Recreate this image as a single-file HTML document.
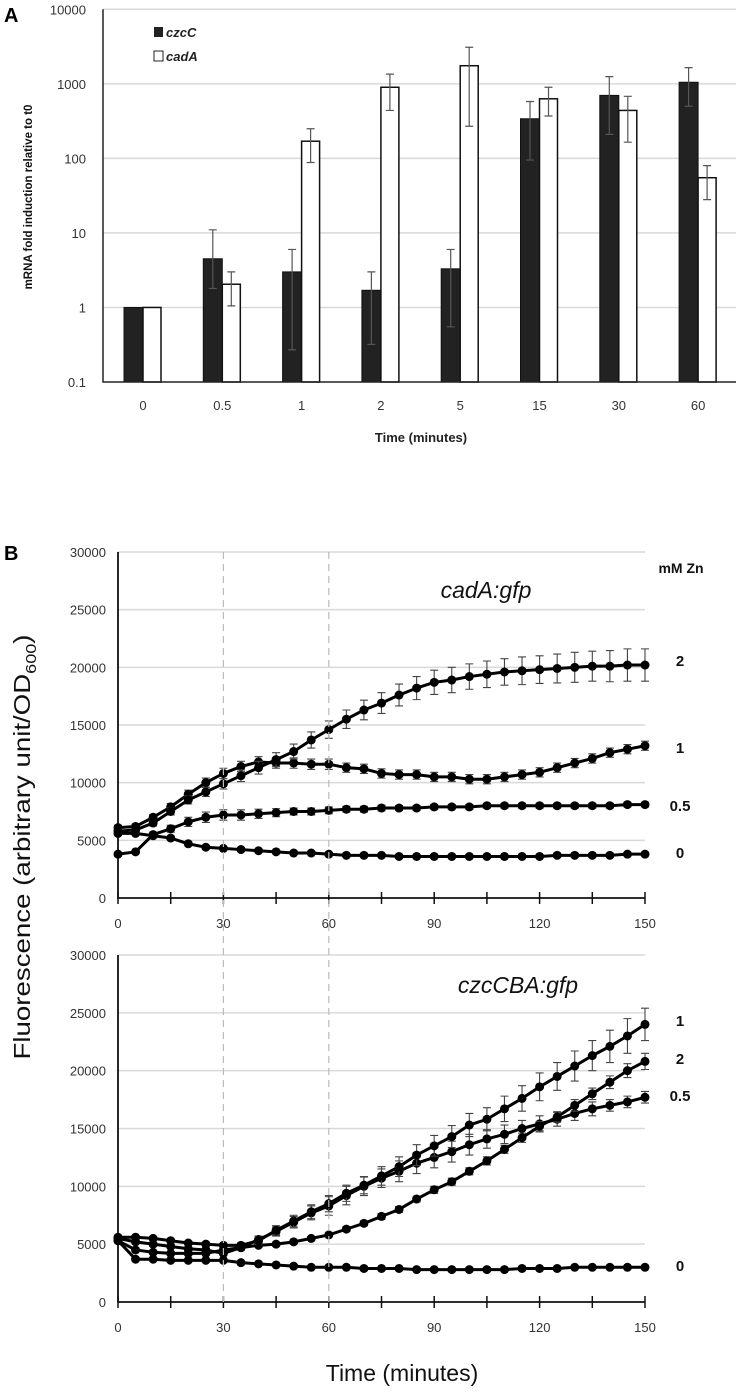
<!DOCTYPE html>
<html><head><meta charset="utf-8"><style>
html,body{margin:0;padding:0;background:#fff;}
svg{display:block;}
text{font-family:"Liberation Sans",Arial,sans-serif;}
</style></head><body>
<svg id="fig" width="739" height="1392" viewBox="0 0 739 1392" xmlns="http://www.w3.org/2000/svg">
<g id="panelA"></g>
<g id="panelB"></g>
</svg>
<script>
// ---------- Panel A data ----------
const catsA = ["0","0.5","1","2","5","15","30","60"];
const czcC = [1, 4.5, 3, 1.7, 3.3, 340, 700, 1050];
const czcCHi = [1, 11, 6, 3, 6, 580, 1250, 1650];
const czcCLo = [1, 1.8, 0.27, 0.32, 0.55, 95, 210, 500];
const cadA = [1, 2.05, 170, 900, 1750, 630, 440, 55];
const cadAHi = [1, 3, 250, 1350, 3100, 900, 680, 80];
const cadALo = [1, 1.05, 88, 440, 270, 370, 165, 28];
const ticksA = [0.1, 1, 10, 100, 1000, 10000];
const tickLabelsA = ["0.1","1","10","100","1000","10000"];

// ---------- Panel B data (t = 0..150 step 5) ----------
const timeB = [0,5,10,15,20,25,30,35,40,45,50,55,60,65,70,75,80,85,90,95,100,105,110,115,120,125,130,135,140,145,150];
const xTicksB = [0,30,60,90,120,150];
const yTicksB = [0,5000,10000,15000,20000,25000,30000];
const cad2 = [5800,5900,6500,7500,8500,9200,9900,10600,11300,12000,12700,13700,14600,15500,16300,16900,17600,18200,18700,18900,19200,19400,19600,19700,19800,19900,20000,20100,20100,20200,20200];
const cad2Err = [200,200,250,300,350,400,450,500,550,600,650,700,750,800,850,900,950,1000,1050,1100,1100,1150,1150,1200,1200,1250,1300,1300,1350,1400,1400];
const cad1 = [6100,6200,7000,7900,9000,10000,10800,11400,11800,11700,11700,11600,11600,11300,11200,10800,10700,10700,10500,10500,10300,10300,10500,10700,10900,11300,11700,12100,12600,12900,13200];
const cad1Err = [200,200,250,300,350,400,450,450,450,450,450,450,450,400,400,400,400,400,400,400,400,400,400,400,400,400,400,400,400,400,400];
const cad05 = [3800,4000,5500,6000,6600,7000,7200,7200,7300,7400,7500,7500,7600,7700,7700,7800,7800,7800,7900,7900,7900,8000,8000,8000,8000,8000,8000,8000,8000,8100,8100];
const cad05Err = [150,150,200,300,400,450,450,450,400,350,300,300,300,250,250,250,200,200,200,200,200,200,200,200,200,200,200,200,200,200,200];
const cad0 = [5600,5600,5400,5200,4700,4400,4300,4200,4100,4000,3900,3900,3800,3700,3700,3700,3600,3600,3600,3600,3600,3600,3600,3600,3600,3700,3700,3700,3700,3800,3800];
const cad0Err = [150,150,150,150,150,150,150,150,150,150,150,150,150,150,150,150,150,150,150,150,150,150,150,150,150,150,150,150,150,150,150];

const czc1 = [5600,5600,5500,5300,5100,5000,4900,4900,5300,6200,7000,7800,8500,9400,10100,10900,11700,12700,13500,14300,15300,15800,16700,17600,18600,19500,20400,21300,22100,23000,24000];
const czc1Err = [150,150,150,150,150,150,150,200,300,400,500,600,700,700,750,800,850,900,900,950,1000,1000,1100,1100,1200,1200,1300,1300,1400,1500,1400];
const czc2 = [5300,4500,4300,4200,4200,4200,4500,4700,4900,5000,5200,5500,5800,6300,6800,7400,8000,8900,9700,10400,11300,12200,13200,14200,15200,16000,17000,18000,19000,20000,20800];
const czc2Err = [150,150,150,150,150,150,150,150,150,150,150,150,150,200,200,250,250,250,300,300,300,350,350,400,400,450,500,500,550,600,700];
const czc05 = [5500,5200,5000,4800,4600,4500,4200,4700,5400,6100,6900,7700,8300,9200,10000,10700,11300,12000,12500,13000,13600,14100,14500,15000,15400,15800,16300,16700,17000,17300,17700];
const czc05Err = [150,150,150,150,150,150,150,200,300,400,500,600,800,800,800,800,900,900,900,900,900,800,800,700,700,600,600,600,500,500,500];
const czc0 = [5300,3700,3700,3600,3600,3600,3600,3400,3300,3200,3100,3000,3000,3000,2900,2900,2900,2800,2800,2800,2800,2800,2800,2900,2900,2900,3000,3000,3000,3000,3000];
const czc0Err = [100,100,100,100,100,100,100,100,100,100,100,100,100,100,100,100,100,100,100,100,100,100,100,100,100,100,100,100,100,100,100];

const NS = "http://www.w3.org/2000/svg";
function mk(parent, tag, attrs, text){
  const e = document.createElementNS(NS, tag);
  for (const k in attrs) e.setAttribute(k, attrs[k]);
  if (text !== undefined) e.textContent = text;
  parent.appendChild(e);
  return e;
}

// ---------- Panel A ----------
(function(){
  const g = document.getElementById('panelA');
  const x0 = 103, x1 = 736, yTop = 9.3, yBot = 382;
  const dec = (yBot - yTop) / 5;
  const yA = v => yBot - (Math.log10(v) + 1) * dec;
  const xA = i => 143 + i * 79.3;

  ticksA.forEach((t, i) => {
    const y = yA(t);
    if (i > 0) {
      const gl = mk(g, 'line', {x1:x0, x2:x1, y1:y, y2:y, stroke:'#d9d9d9', 'stroke-width':1.5});
      
      
    }
    const tl = mk(g, 'text', {x:86, y:y+5, 'text-anchor':'end', 'font-size':13, fill:'#333'}, tickLabelsA[i]);
    
    
  });

  catsA.forEach((c, i) => {
    const cx = xA(i);
    const yb = yA(czcC[i]);
    const b1 = mk(g, 'rect', {x:cx-19, y:yb, width:19, height:yBot-yb, fill:'#222', stroke:'#111', 'stroke-width':1});
    
    
    const yw = yA(cadA[i]);
    const b2 = mk(g, 'rect', {x:cx, y:yw, width:18, height:yBot-yw, fill:'#fff', stroke:'#111', 'stroke-width':1.5});
    
    
    [[cx-9.5, czcCHi[i], czcCLo[i]], [cx+9, cadAHi[i], cadALo[i]]].forEach(([ex, hi, lo]) => {
      if (hi === lo) return;
      const eb = mk(g, 'path', {d:`M${ex},${yA(hi)}V${yA(lo)}M${ex-4},${yA(hi)}H${ex+4}M${ex-4},${yA(lo)}H${ex+4}`, stroke:'#555', 'stroke-width':1.2, fill:'none'});
      
      
    });
    const xl = mk(g, 'text', {x:cx, y:410, 'text-anchor':'middle', 'font-size':13, fill:'#333'}, c);
    
    
  });

  const ax = mk(g, 'path', {d:`M${x0},${yTop}V${yBot}H${x1}`, stroke:'#222', 'stroke-width':1.5, fill:'none'});
  
  
})();

// static labels for panel A
(function(){
  const g = document.getElementById('panelA');
  g.insertAdjacentHTML('beforeend',
  '<text x="4" y="22" font-size="20" font-weight="bold">A</text>' +
  '<rect x="154" y="27" width="9" height="10" fill="#222"/>' +
  '<text x="166" y="37" font-size="13" font-style="italic" font-weight="bold" fill="#222">czcC</text>' +
  '<rect x="154" y="51" width="9" height="10" fill="#fff" stroke="#222" stroke-width="1"/>' +
  '<text x="166" y="61" font-size="13" font-style="italic" font-weight="bold" fill="#222">cadA</text>' +
  '<text transform="translate(32,197) rotate(-90)" text-anchor="middle" font-size="11.5" font-weight="bold" fill="#111">mRNA fold induction  relative to t0</text>' +
  '<text x="421" y="442" text-anchor="middle" font-size="13" font-weight="bold" fill="#222">Time (minutes)</text>');
})();

// ---------- Panel B ----------
(function(){
  const g = document.getElementById('panelB');
  const x0 = 118, x1 = 645;
  const xB = t => x0 + t / 150 * (x1 - x0);

  function panel(name, yTop, yBot, series, title, titleX, titleY, labels){
    const yB = v => yBot - v / 30000 * (yBot - yTop);
    yTicksB.forEach(v => {
      if (v > 0) {
        const gl = mk(g, 'line', {x1:x0, x2:x1, y1:yB(v), y2:yB(v), stroke:'#d9d9d9', 'stroke-width':1.5});
        
        
      }
      const tl = mk(g, 'text', {x:106, y:yB(v)+5, 'text-anchor':'end', 'font-size':13, fill:'#333'}, String(v));
      
      
    });
    const ax = mk(g, 'path', {d:`M${x0},${yTop}V${yBot}H${x1}`, stroke:'#111', 'stroke-width':1.8, fill:'none'});
    
    
    for (let t = 0; t <= 150; t += 15) {
      const tk = mk(g, 'line', {x1:xB(t), x2:xB(t), y1:yBot-6, y2:yBot+6, stroke:'#111', 'stroke-width':1.5});
      
      
    }
    xTicksB.forEach(t => {
      const xl = mk(g, 'text', {x:xB(t), y:yBot+30, 'text-anchor':'middle', 'font-size':13, fill:'#333'}, String(t));
      
      
    });
    series.forEach(([vals, errs, sname]) => {
      const eg = mk(g, 'g', {stroke:'#444', 'stroke-width':1.1, fill:'none'});
      
      
      vals.forEach((v, i) => {
        const x = xB(timeB[i]), hi = yB(v + errs[i]), lo = yB(v - errs[i]);
        mk(eg, 'path', {d:`M${x},${hi}V${lo}M${x-4},${hi}H${x+4}M${x-4},${lo}H${x+4}`});
      });
      const pts = vals.map((v, i) => xB(timeB[i]) + ',' + yB(v)).join(' ');
      const ln = mk(g, 'polyline', {points:pts, stroke:'#000', 'stroke-width':3, fill:'none', 'stroke-linejoin':'round'});
      
      
      const mg = mk(g, 'g', {fill:'#000'});
      
      
      vals.forEach((v, i) => mk(mg, 'circle', {cx:xB(timeB[i]), cy:yB(v), r:4.5}));
    });
    const tt = mk(g, 'text', {x:titleX, y:titleY, 'text-anchor':'middle', 'font-size':23, 'font-style':'italic', fill:'#111'}, title);
    
    
    labels.forEach(([txt, y]) => {
      const lb = mk(g, 'text', {x:680, y:y, 'text-anchor':'middle', 'font-size':15, 'font-weight':'bold', fill:'#111'}, txt);
      
      
    });
  }

  panel('cadA', 552, 898,
    [[cad0, cad0Err, 'zn0'], [cad05, cad05Err, 'zn05'], [cad1, cad1Err, 'zn1'], [cad2, cad2Err, 'zn2']],
    'cadA:gfp', 486, 598, [['2', 666], ['1', 753], ['0.5', 811], ['0', 858]]);
  panel('czcCBA', 955, 1302,
    [[czc0, czc0Err, 'zn0'], [czc05, czc05Err, 'zn05'], [czc2, czc2Err, 'zn2'], [czc1, czc1Err, 'zn1']],
    'czcCBA:gfp', 518, 993, [['1', 1026], ['2', 1064], ['0.5', 1101], ['0', 1271]]);

  [30, 60].forEach(t => {
    const d = mk(g, 'line', {x1:xB(t), x2:xB(t), y1:552, y2:1302, stroke:'#bbb', 'stroke-width':1.2, 'stroke-dasharray':'7,5'});
    
    
  });

  g.insertAdjacentHTML('beforeend',
  '<text x="4" y="560" font-size="20" font-weight="bold">B</text>' +
  '<text x="681" y="573" text-anchor="middle" font-size="14" font-weight="bold" fill="#111">mM Zn</text>' +
  '<text transform="translate(30,847) rotate(-90)" text-anchor="middle" font-size="23" textLength="425" lengthAdjust="spacingAndGlyphs" fill="#111">Fluorescence (arbitrary unit/OD<tspan font-size="15" dy="6">600</tspan><tspan dy="-6">)</tspan></text>' +
  '<text x="402" y="1381" text-anchor="middle" font-size="23" fill="#111">Time (minutes)</text>');
})();
</script>
</body></html>
